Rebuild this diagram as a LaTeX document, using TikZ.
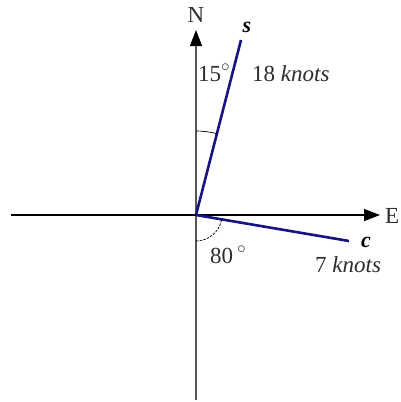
\documentclass[tikz,border=0pt]{standalone}
\usepackage{fontspec}
\setmainfont{Liberation Serif}
\usetikzlibrary{arrows.meta}
\definecolor{vecblue}{RGB}{20,20,130}
\definecolor{axgrey}{RGB}{85,85,85}
\definecolor{txt}{RGB}{45,45,45}
\tikzset{
  axis/.style={line width=1.3pt},
  vec/.style={vecblue,line width=2.6pt},
  lab/.style={inner sep=0pt,text=txt,font=\fontsize{23}{23}\selectfont},
  tip/.style={-{Triangle[length=16pt,width=12pt,color=black]}}
}
\begin{document}
\begin{tikzpicture}[x=1pt,y=-1pt]
\useasboundingbox (0,0) rectangle (400,402);
\coordinate (O) at (196,215);
\coordinate (Wend) at (11,215);
\coordinate (Eend) at (380,215);
\coordinate (Send) at (196,400);
\coordinate (Nend) at (196,30);
\coordinate (S) at (241,40);
\coordinate (C) at (349,241);
\draw[axis,axgrey] (Send) -- (O);
\draw[axis,axgrey,tip] (O) -- (Nend);
\draw[axis] (Wend) -- (O);
\draw[axis,tip] (O) -- (Eend);
\draw[vec] (O) -- (S);
\draw[vec] (O) -- (C);
% angle arcs
\draw[line width=0.7pt] (196,131) arc[start angle=270,end angle=285,radius=84];
\draw[line width=0.7pt,dash pattern=on 2.5pt off 1.2pt] (196,241) arc[start angle=90,end angle=10,radius=26];
\node[lab] (N) at (196,15) {N};
\node[lab,anchor=west] (E) at (385,216) {E};
\node[lab,text=black,font=\fontsize{22}{22}\selectfont\bfseries\itshape] (sl) at (247,27) {s};
\node[lab,text=black,font=\fontsize{22}{22}\selectfont\bfseries\itshape] (cl) at (366,242) {c};
\node[lab,anchor=base west] (a15) at (198,81) {15$^\circ$};
\node[lab,anchor=base west] (v18) at (252,81) {18 \textit{knots}};
\node[lab,anchor=base west] (a80) at (210,263) {80\,$^\circ$};
\node[lab,anchor=base west] (v7) at (315,272) {7 \textit{knots}};
\end{tikzpicture}
\end{document}
